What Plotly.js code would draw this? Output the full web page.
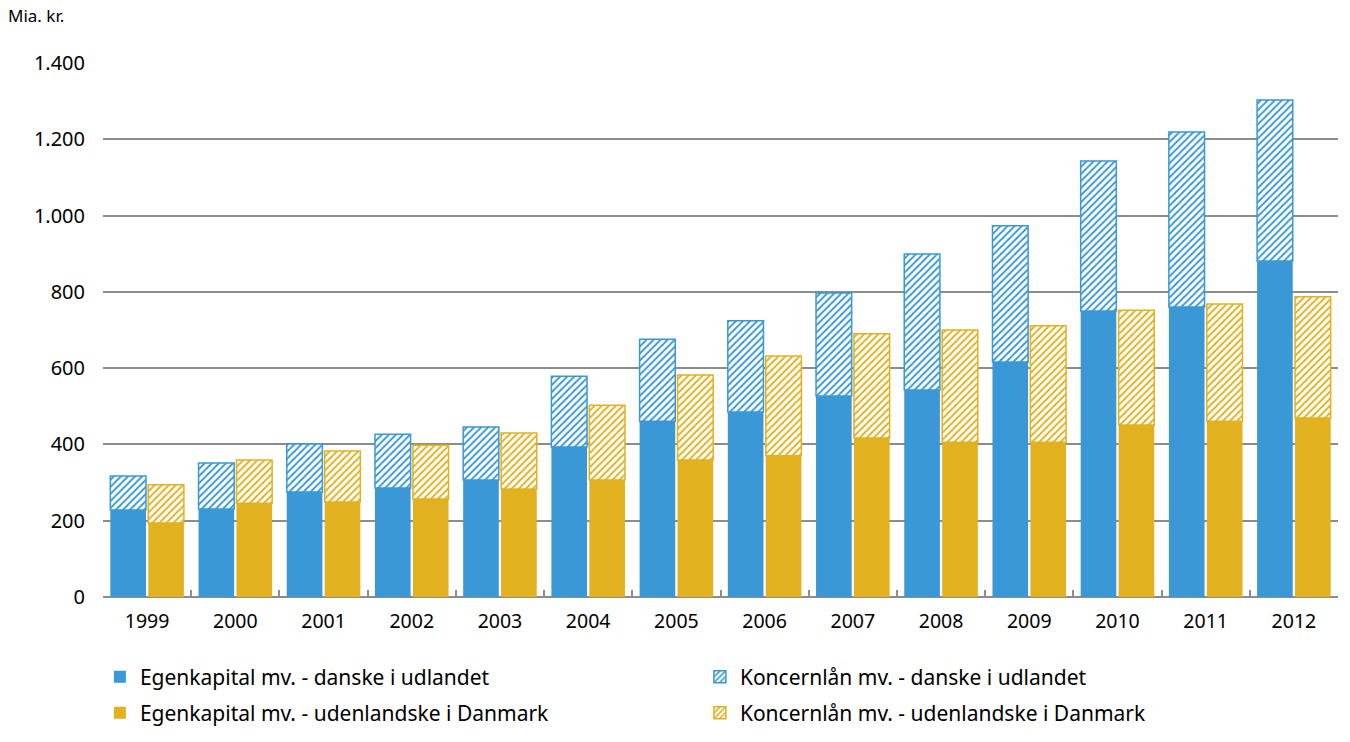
<!DOCTYPE html>
<html>
<head>
<meta charset="utf-8">
<script src="https://cdn.plot.ly/plotly-3.0.1.min.js"></script>
<style>html,body{margin:0;padding:0;background:#fff;}#chart{width:1350px;height:742px;}</style>
</head>
<body>
<div id="chart"></div>
<script>
const years = ['1999','2000','2001','2002','2003','2004','2005','2006','2007','2008','2009','2010','2011','2012'];
const egenDanske = [228,231,275,286,307,393,461,485,527,543,616,750,760,881];
const laanDanske = [89,120,126,141,139,186,215,239,270,356,357,393,459,422];
const egenUdl = [194,246,249,257,283,307,359,370,417,406,406,451,461,469];
const laanUdl = [100,113,134,141,147,196,223,262,273,294,305,301,307,318];
const names = ['Egenkapital mv. - danske i udlandet','Koncernlån mv. - danske i udlandet','Egenkapital mv. - udenlandske i Danmark','Koncernlån mv. - udenlandske i Danmark'];
const yTicks = [0,200,400,600,800,1000,1200,1400];

const BLUE = '#3A98D6';
const YEL = '#E2B11F';
const pat = c => ({shape:'/', fillmode:'replace', bgcolor:'#ffffff', fgcolor:c, size:5, solidity:0.4});

const traces = [
  {type:'bar', x:years, y:egenDanske, name:names[0], offsetgroup:'a', legend:'legend',
   marker:{color:BLUE, line:{width:0}}},
  {type:'bar', x:years, y:laanDanske, base:egenDanske, name:names[1], offsetgroup:'a', legend:'legend',
   marker:{color:BLUE, line:{color:BLUE, width:1.5}, pattern:pat(BLUE)}},
  {type:'bar', x:years, y:egenUdl, name:names[2], offsetgroup:'b', legend:'legend2',
   marker:{color:YEL, line:{width:0}}},
  {type:'bar', x:years, y:laanUdl, base:egenUdl, name:names[3], offsetgroup:'b', legend:'legend2',
   marker:{color:YEL, line:{color:YEL, width:1.5}, pattern:pat(YEL)}}
];

const legBase = {orientation:'h', xref:'container', yref:'container', x:0.074, xanchor:'left',
  yanchor:'middle', entrywidth:555, entrywidthmode:'pixels', traceorder:'normal',
  font:{size:21}, itemwidth:30, bgcolor:'rgba(0,0,0,0)'};

const layout = {
  width:1350, height:742,
  margin:{l:103, r:12, t:63, b:145},
  paper_bgcolor:'#fff', plot_bgcolor:'#fff',
  font:{family:'"Noto Sans", "Open Sans", sans-serif', size:20, color:'#000'},
  separators:',.',
  barmode:'group',
  bargap:0.14, bargroupgap:0.06,
  showlegend:true,
  legend:Object.assign({}, legBase, {y:65/742}),
  legend2:Object.assign({}, legBase, {y:29/742}),
  xaxis:{type:'category', showgrid:false, zeroline:false, showline:false,
    ticks:'inside', tickson:'boundaries', ticklen:7, tickwidth:2, tickcolor:'#8C8C8C',
    tickfont:{size:19.5}, ticklabelstandoff:10, fixedrange:true},
  yaxis:{range:[0,1400], tickvals:yTicks, tickformat:',d', showgrid:true,
    gridcolor:'#8C8C8C', gridwidth:2, zeroline:true, zerolinecolor:'#8C8C8C', zerolinewidth:2,
    showline:false, ticks:'', ticklabelstandoff:17, tickfont:{size:20}},
  annotations:[{text:'Mia. kr.', xref:'paper', yref:'paper', x:-97/1235, y:1 + 47/534,
    xanchor:'left', yanchor:'middle', showarrow:false, font:{size:17}}]
};

Plotly.newPlot('chart', traces, layout, {displayModeBar:false, staticPlot:true});
</script>
</body>
</html>
